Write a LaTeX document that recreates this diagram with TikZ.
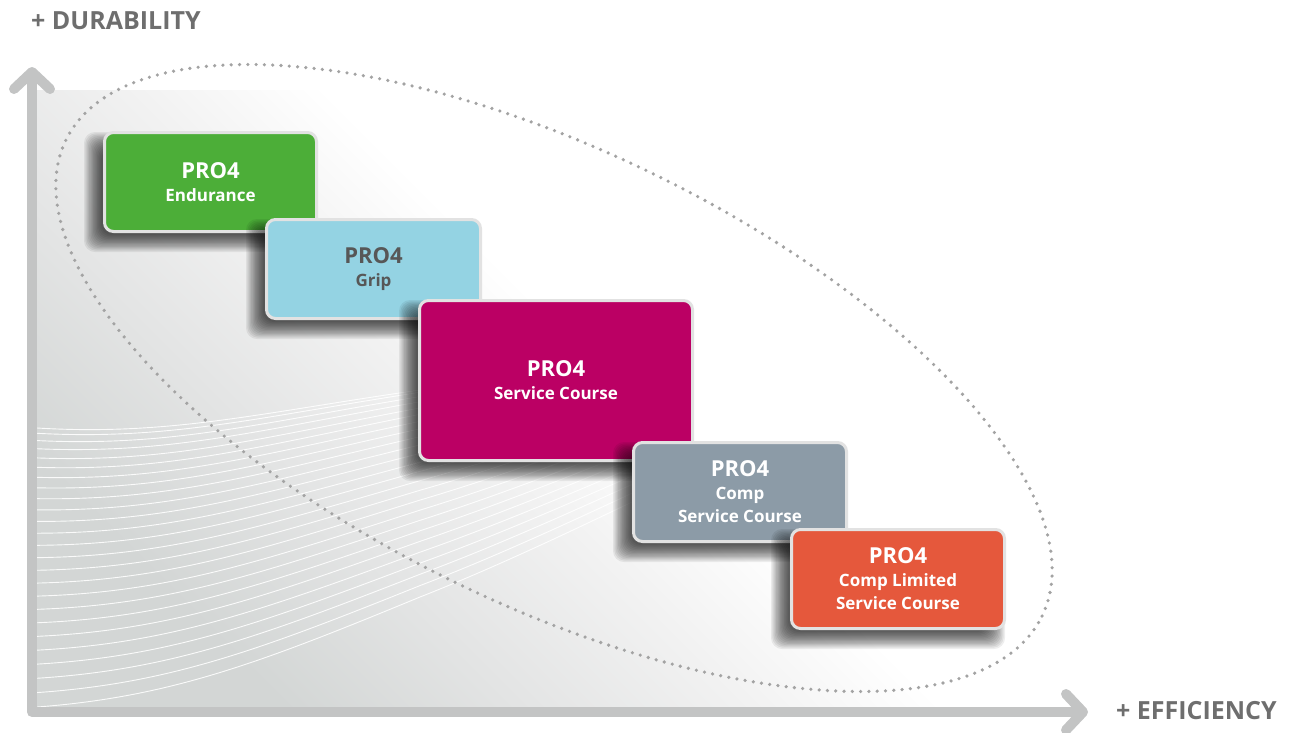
\documentclass[tikz,border=0pt]{standalone}
\usepackage{fontspec}
\setmainfont{Open Sans}
\usetikzlibrary{arrows.meta}
\definecolor{cgreen}{HTML}{4CAE38}
\definecolor{cblue}{HTML}{94D3E3}
\definecolor{cmag}{HTML}{BB0064}
\definecolor{cslate}{HTML}{8C9BA7}
\definecolor{corange}{HTML}{E5583C}
\definecolor{cborder}{HTML}{E2E2E2}
\definecolor{clabel}{HTML}{6E6E6E}
\definecolor{cgrip}{HTML}{575757}
\definecolor{caxis}{HTML}{C3C4C4}
\definecolor{cdots}{HTML}{A3A3A3}
\definecolor{bgll}{HTML}{D3D6D5}
\definecolor{bgq}{HTML}{E3E4E4}
\definecolor{bgmid}{HTML}{F2F2F2}
\pgfdeclareverticalshading{bgfade}{100bp}{color(0bp)=(bgll); color(25bp)=(bgll); color(35bp)=(bgq); color(45bp)=(bgmid); color(53bp)=(white); color(100bp)=(white)}
\tikzset{
  prodbox/.style={draw=cborder, line width=3pt, rounded corners=9pt, inner sep=0pt,
    align=center, text=white,
    font=\bfseries\fontsize{17}{23}\selectfont},
  shadowlayer/.style={black, opacity=0.065, rounded corners=11pt},
  axislabel/.style={font=\bfseries\fontsize{25}{28}\selectfont, text=clabel, inner sep=0pt},
  axisline/.style={caxis, line width=10pt, line join=round,
    {Straight Barb[length=17pt,width=36pt,round]}-{Straight Barb[length=17pt,width=36pt,round]}},
  wave/.style={white, line width=0.9pt, opacity=0.9},
  dotring/.style={cdots, line width=3.6pt, line cap=round, dash pattern=on 0pt off 8.3pt}
}
\newcommand{\headline}[1]{{\fontsize{22}{24}\selectfont #1}}
% soft shadow: centre x, centre y, outer width, outer height
\newcommand{\boxshadow}[4]{%
  \foreach \k in {0,...,13}{%
    \pgfmathsetmacro\ee{9-1.3*\k}%
    \fill[shadowlayer] (#1-#3/2-10-\ee, #2-#4/2+10-\ee) rectangle (#1+#3/2-10+\ee, #2+#4/2+10+\ee);
  }%
}
\begin{document}
\begin{tikzpicture}[x=1pt,y=-1pt]
\useasboundingbox (0,0) rectangle (1294,732);
% background panel
\begin{scope}
  \clip (37,90) rectangle (1090,707);
  \shade[shading=bgfade, shading angle=-45] (37,90) rectangle (1090,707);
  \foreach \i in {0,...,24}{
    \pgfmathsetmacro\yl{428+279*(\i/24)^1.25}
    \pgfmathsetmacro\dd{8-18*\i/24}
    \pgfmathsetmacro\rr{38+72*\i/24}
    \draw[wave] (37,\yl) .. controls (170,\yl+\dd) and (260,\yl-0.4*\rr) .. (420,\yl-\rr)
      .. controls (560,\yl-1.5*\rr) and (700,\yl-2.2*\rr) .. (900,\yl-3*\rr);
  }
\end{scope}
% axes
\coordinate (ytip) at (32,67);
\coordinate (corner) at (32,712);
\coordinate (xtip) at (1088,712);
\draw[axisline] (ytip) -- (corner) -- (xtip);
\node[axislabel, anchor=base west] (ylab) at (31,29) {+ DURABILITY};
\node[axislabel, anchor=base west] (xlab) at (1116,719) {+ EFFICIENCY};
% dotted ellipse
\draw[dotring, rotate around={-26:(554,378)}] (554,378) ellipse [x radius=543pt, y radius=227pt];
% boxes
\boxshadow{210.5}{182}{215}{102}
\node[prodbox, fill=cgreen, minimum width=212pt, minimum height=99pt] (endurance) at (210.5,182)
  {\headline{PRO4}\\Endurance};
\boxshadow{373.5}{269}{217}{102}
\node[prodbox, fill=cblue, text=cgrip, minimum width=214pt, minimum height=99pt] (grip) at (373.5,269)
  {\headline{PRO4}\\Grip};
\boxshadow{556}{380.5}{276}{163}
\node[prodbox, fill=cmag, minimum width=273pt, minimum height=160pt] (service) at (556,380.5)
  {\headline{PRO4}\\Service Course};
\boxshadow{740}{492}{216}{102}
\node[prodbox, fill=cslate, minimum width=213pt, minimum height=99pt] (comp) at (740,492)
  {\headline{PRO4}\\Comp\\Service Course};
\boxshadow{898}{579}{216}{102}
\node[prodbox, fill=corange, minimum width=213pt, minimum height=99pt] (limited) at (898,579)
  {\headline{PRO4}\\Comp Limited\\Service Course};
\end{tikzpicture}
\end{document}
